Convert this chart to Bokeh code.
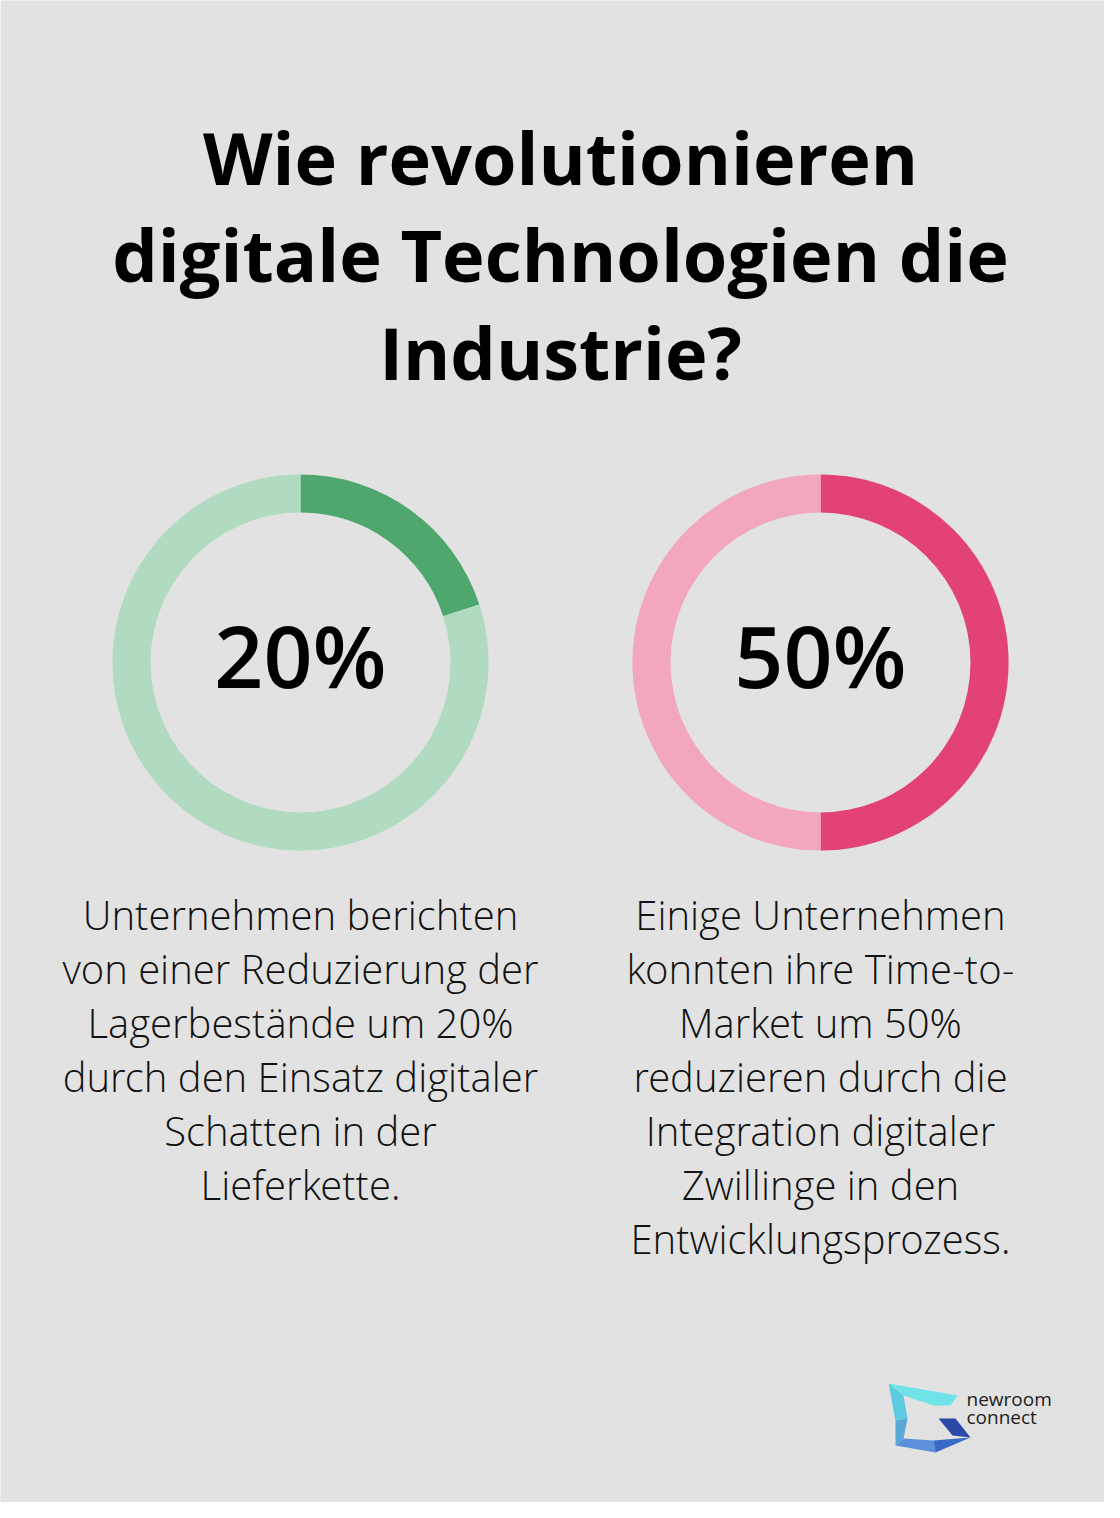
import math
from bokeh.plotting import figure
from bokeh.models import Range1d
from bokeh.core.properties import value
from bokeh.embed import file_html
from bokeh.resources import INLINE

# ---- data ----
percent_values = [20, 50]
percent_labels = ["20%", "50%"]
dark_colors = ["#4ea86e", "#e34274"]
light_colors = ["#b0dbc0", "#f2a7bd"]
title_lines = ["Wie revolutionieren", "digitale Technologien die", "Industrie?"]
descriptions = [
    ["Unternehmen berichten", "von einer Reduzierung der", "Lagerbestände um 20%",
     "durch den Einsatz digitaler", "Schatten in der", "Lieferkette."],
    ["Einige Unternehmen", "konnten ihre Time-to-", "Market um 50%",
     "reduzieren durch die", "Integration digitaler", "Zwillinge in den",
     "Entwicklungsprozess."],
]
logo_words = ["newroom", "connect"]

BG = "#e1e2e1"
W, H = 1104, 1502


def Y(py):
    # convert screen pixel y to data y (y up)
    return H - py


def TB(py, size):
    # baseline correction for the text glyph
    return Y(py - 0.4 * size)


p = figure(width=W, height=H, output_backend="svg", toolbar_location=None,
           x_range=Range1d(0, W), y_range=Range1d(0, H),
           min_border=0, background_fill_color=BG, border_fill_color=BG,
           outline_line_color=None)
p.axis.visible = False
p.grid.visible = False

# title
TS = 72
title_base = [185, 282.5, 380]
p.text(x=[560] * 3, y=[TB(b, TS) for b in title_base], text=title_lines,
       text_font=value("Open Sans"), text_font_style="bold",
       text_font_size=f"{TS}px", text_align="center", text_baseline="alphabetic",
       text_color="#000000")

# donuts
centers_x = [300, 820]
cy = Y(662)
r_out, r_in = 188, 150
for i, v in enumerate(percent_values):
    frac = v / 100.0
    start = math.pi / 2
    end = math.pi / 2 - 2 * math.pi * frac
    p.annular_wedge(x=centers_x[i], y=cy, inner_radius=r_in, outer_radius=r_out,
                    start_angle=end, end_angle=start, direction="anticlock",
                    fill_color=dark_colors[i], line_color=None)
    p.annular_wedge(x=centers_x[i], y=cy, inner_radius=r_in, outer_radius=r_out,
                    start_angle=start, end_angle=end + 2 * math.pi, direction="anticlock",
                    fill_color=light_colors[i], line_color=None)

PS = 86
p.text(x=centers_x, y=[TB(688, PS)] * 2, text=percent_labels,
       text_font=value("Open Sans SemiBold"), text_font_style="normal",
       text_font_size=f"{PS}px", text_align="center", text_baseline="alphabetic",
       text_color="#000000")

# descriptions
BS = 40
for i, lines in enumerate(descriptions):
    ys = [TB(930 + 54 * k, BS) for k in range(len(lines))]
    p.text(x=[centers_x[i]] * len(lines), y=ys, text=lines,
           text_font=value("Open Sans Light"), text_font_size=f"{BS}px",
           text_align="center", text_baseline="alphabetic", text_color="#111111")

# logo
logo_polys = [
    ([888, 957, 950, 933, 903], [1383, 1395, 1405, 1405, 1395], "#6fe3e8"),
    ([888, 903, 907, 895], [1383, 1395, 1418, 1420], "#5ccadf"),
    ([895, 907, 903, 895], [1420, 1418, 1438, 1445], "#5aa8d8"),
    ([895, 903, 933, 935], [1445, 1438, 1440, 1452], "#5b8fdc"),
    ([933, 970, 935], [1440, 1437, 1452], "#3a6ac8"),
    ([938, 955, 970, 952], [1418, 1418, 1437, 1435], "#2b4aa8"),
]
p.patches(xs=[pl[0] for pl in logo_polys], ys=[[Y(v) for v in pl[1]] for pl in logo_polys],
          fill_color=[pl[2] for pl in logo_polys], line_color=None)
LS = 19
p.text(x=[966, 966], y=[TB(1406, LS), TB(1424, LS)], text=logo_words,
       text_font=value("Open Sans"), text_font_size=f"{LS}px",
       text_align="left", text_baseline="alphabetic", text_color="#222222")

open("out.html", "w").write(file_html(p, INLINE))
